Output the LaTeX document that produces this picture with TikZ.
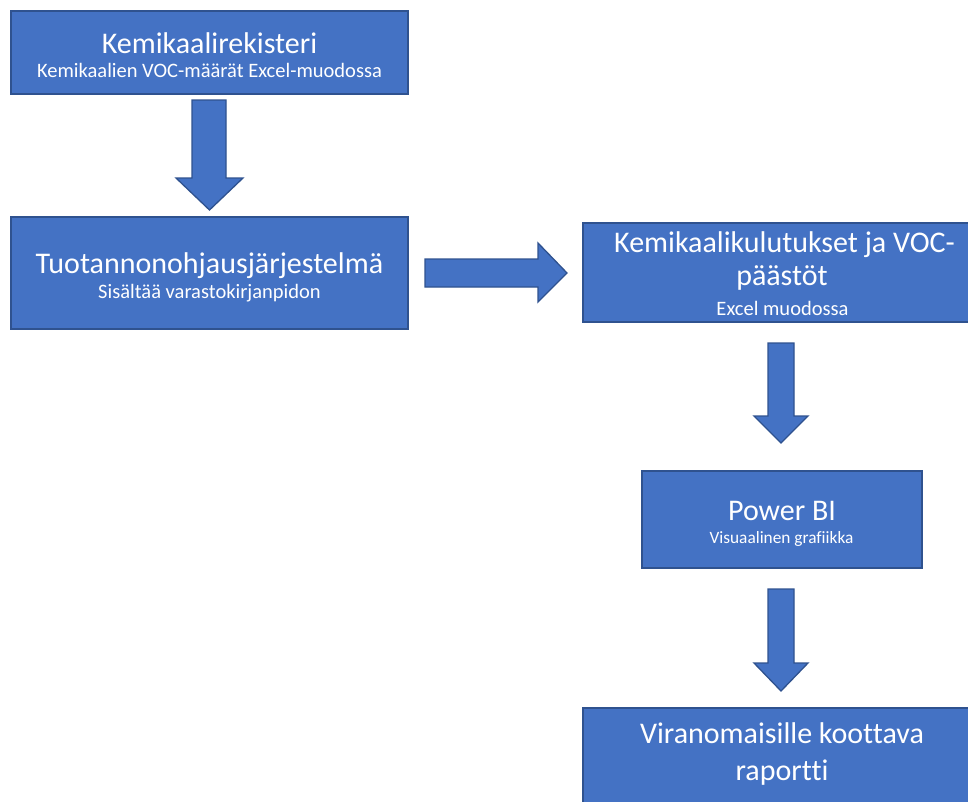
\documentclass[tikz,border=0pt]{standalone}
\usepackage{fontspec}
\setmainfont{Carlito}[Ligatures=NoCommon]
\definecolor{boxblue}{HTML}{4472C4}
\definecolor{boxedge}{HTML}{2F528F}
\tikzset{
  box/.style={draw=boxedge, fill=boxblue, line width=1.5pt, rectangle, inner sep=0pt},
  blockarrow/.style={draw=boxedge, fill=boxblue, line width=1.3pt, line join=miter},
  ttl/.style={text=white, anchor=base, inner sep=0pt, font=\fontsize{30}{36}\selectfont},
  sub/.style={text=white, anchor=base, inner sep=0pt, font=\fontsize{20.5}{24}\selectfont},
  subsmall/.style={text=white, anchor=base, inner sep=0pt, font=\fontsize{17.3}{21}\selectfont},
}
\begin{document}
\begin{tikzpicture}[x=1pt,y=-1pt]
\useasboundingbox (0,0) rectangle (968,801);
\clip (0,0) rectangle (968,801);
% boxes
\node[box, minimum width=397pt, minimum height=83pt] (b1) at (209.5,52.5) {};
\node[box, minimum width=397pt, minimum height=112pt] (b2) at (209.5,273) {};
\node[box, minimum width=404pt, minimum height=99pt] (b3) at (785,272.5) {};
\node[box, minimum width=280pt, minimum height=97pt] (b4) at (782,519.5) {};
\node[box, minimum width=404pt, minimum height=140pt] (b5) at (785,778) {};
% texts
\node[ttl] (t1) at (209.5,53) {Kemikaalirekisteri};
\node[sub] (s1) at (209.5,77) {Kemikaalien VOC-määrät Excel-muodossa};
\node[ttl] (t2) at (209.5,273) {Tuotannonohjausjärjestelmä};
\node[sub] (s2) at (209.5,298) {Sisältää varastokirjanpidon};
\node[ttl] (t3a) at (784.5,252) {Kemikaalikulutukset ja VOC-};
\node[ttl] (t3b) at (782,285) {päästöt};
\node[sub] (s3) at (782.5,315) {Excel muodossa};
\node[ttl] (t4) at (782,520) {Power BI};
\node[subsmall] (s4) at (781.5,543) {Visuaalinen grafiikka};
\node[ttl] (t5a) at (782,743) {Viranomaisille koottava};
\node[ttl] (t5b) at (782,780) {raportti};
% block arrows
\draw[blockarrow] (192,100) -- (226,100) -- (226,178) -- (243,178) -- (209.5,210)
  -- (176,178) -- (192,178) -- cycle;
\draw[blockarrow] (425,259) -- (538,259) -- (538,243) -- (567,273) -- (538,302)
  -- (538,287) -- (425,287) -- cycle;
\draw[blockarrow] (768,343) -- (794,343) -- (794,416) -- (808,416) -- (781,443)
  -- (754,416) -- (768,416) -- cycle;
\draw[blockarrow] (768,589) -- (794,589) -- (794,663) -- (808,663) -- (781,691)
  -- (754,663) -- (768,663) -- cycle;
\end{tikzpicture}
\end{document}
